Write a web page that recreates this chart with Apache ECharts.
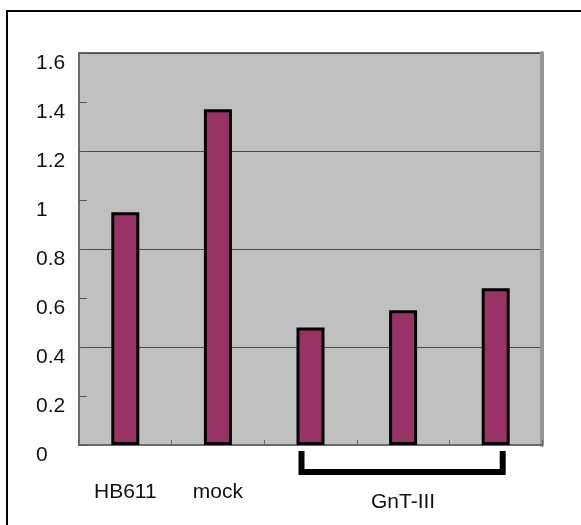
<!DOCTYPE html>
<html>
<head>
<meta charset="utf-8">
<script src="https://cdn.jsdelivr.net/npm/echarts@6/dist/echarts.min.js"></script>
<style>
html,body{margin:0;padding:0;background:#fff;}
#chart{width:581px;height:525px;}
</style>
</head>
<body>
<div id="chart"></div>
<script>
// ---- data ----
var categories = ['HB611', 'mock', 'GnT-III 1', 'GnT-III 2', 'GnT-III 3'];
var xTickLabels = ['HB611', 'mock', '', 'GnT-III', ''];
var values = [0.95, 1.37, 0.48, 0.55, 0.64];
var yTicks = [0, 0.2, 0.4, 0.6, 0.8, 1, 1.2, 1.4, 1.6];
var bracketGroup = [2, 4]; // first and last category index under the bracket

var chart = echarts.init(document.getElementById('chart'));
var font = 'Liberation Sans, Arial, sans-serif';

var option = {
  animation: false,
  backgroundColor: '#ffffff',
  graphic: [{
    type: 'rect',
    shape: { x: 7, y: 11, width: 700, height: 700 },
    style: { fill: 'none', stroke: '#000', lineWidth: 2 },
    silent: true
  }],
  grid: {
    left: 79, right: 39, top: 53, bottom: 80,
    show: true, backgroundColor: '#c0c0c0',
    borderColor: '#6a6a6a', borderWidth: 2
  },
  xAxis: {
    type: 'category',
    data: categories,
    boundaryGap: true,
    axisLine: { show: true, lineStyle: { color: '#6a6a6a', width: 2 } },
    axisTick: { show: true, inside: true, length: 5, lineStyle: { color: '#666', width: 1 } },
    axisLabel: {
      interval: 0,
      margin: 37,
      verticalAlign: 'top',
      fontFamily: font, fontSize: 21, color: '#111',
      formatter: function (v, i) {
        var t = xTickLabels[i];
        if (i === 3) return '{g|' + t + '}';
        return t;
      },
      rich: { g: { fontFamily: font, fontSize: 21, color: '#111', padding: [10, 0, 0, 0] } }
    },
    splitLine: { show: false }
  },
  yAxis: [{
    type: 'value',
    min: yTicks[0], max: yTicks[yTicks.length - 1], interval: 0.2,
    axisLine: { show: true, lineStyle: { color: '#6a6a6a', width: 2 } },
    axisTick: { show: true, inside: true, length: 8, lineStyle: { color: '#555', width: 1 } },
    axisLabel: {
      margin: 43, align: 'left', verticalAlign: 'top',
      fontFamily: font, fontSize: 21, color: '#111',
      formatter: function (v) { return String(+v.toFixed(1)); }
    },
    splitLine: { show: false }
  }, {
    type: 'value',
    position: 'right',
    min: 0, max: 1.6, interval: 0.4,
    axisLine: { show: true, lineStyle: { color: '#959595', width: 4 } },
    axisTick: { show: false },
    axisLabel: { show: false },
    splitLine: { show: true, lineStyle: { color: '#4a4a4a', width: 1 } }
  }],
  series: [{
    type: 'bar',
    data: values,
    barWidth: 28,
    itemStyle: { color: '#993366', borderColor: '#000', borderWidth: 3 },
    z: 3
  }, {
    type: 'custom',
    clip: false,
    silent: true,
    data: [[bracketGroup[0], 0, bracketGroup[1]]],
    encode: { x: 0, y: 1 },
    renderItem: function (params, api) {
      var p1 = api.coord([api.value(0), 0]);
      var p2 = api.coord([api.value(2), 0]);
      var y0 = p1[1];
      return {
        type: 'polyline',
        shape: { points: [
          [p1[0] - 9, y0 + 6], [p1[0] - 9, y0 + 27],
          [p2[0] + 7, y0 + 27], [p2[0] + 7, y0 + 6]
        ] },
        style: { stroke: '#000', lineWidth: 6, fill: 'none', lineJoin: 'miter' }
      };
    }
  }]
};
chart.setOption(option);
</script>
</body>
</html>
